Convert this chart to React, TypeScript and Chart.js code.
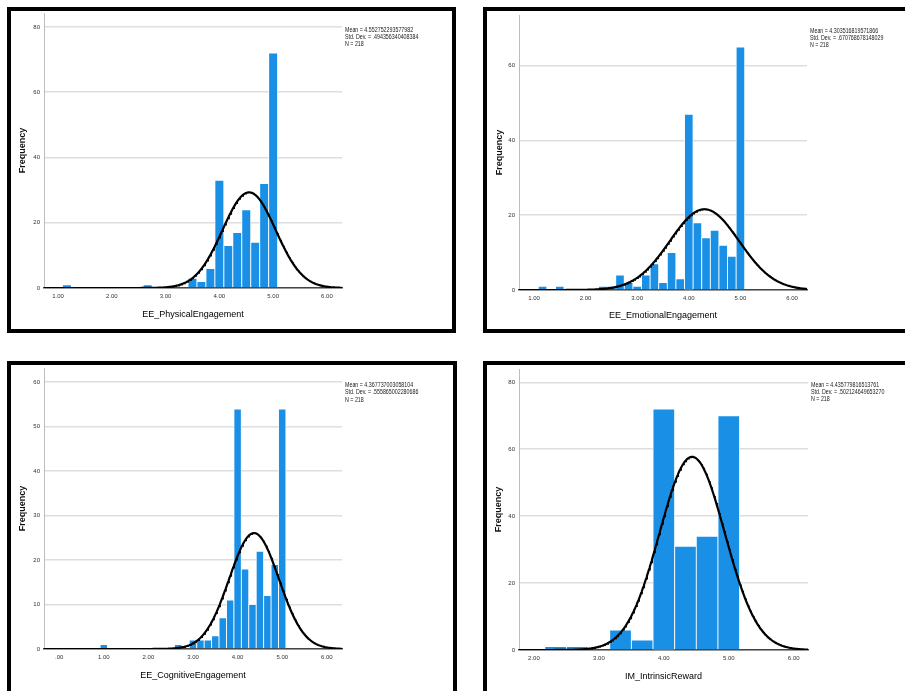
import React, { useEffect, useRef } from 'react';
import { Chart, registerables } from 'chart.js';

Chart.register(...registerables);

// ---------- Data ----------
// EE_PhysicalEngagement
const physicalBins = [1.1667, 2.6667, 3.5, 3.6667, 3.8333, 4.0, 4.1667, 4.3333, 4.5, 4.6667, 4.8333, 5.0];
const physicalCounts = [1, 1, 3, 2, 6, 33, 13, 17, 24, 14, 32, 72];
const physicalStats = [4.552752293577982, 0.494356340408384, 218];
const physicalStatLines = ['Mean = 4.552752293577982', 'Std. Dev. = .494356340408384', 'N = 218'];

// EE_EmotionalEngagement
const emotionalBins = [1.1667, 1.5, 2.3333, 2.5, 2.6667, 2.8333, 3.0, 3.1667, 3.3333, 3.5, 3.6667, 3.8333, 4.0, 4.1667, 4.3333, 4.5, 4.6667, 4.8333, 5.0];
const emotionalCounts = [1, 1, 1, 1, 4, 2, 1, 4, 7, 2, 10, 3, 47, 18, 14, 16, 12, 9, 65];
const emotionalStats = [4.303516819571866, 0.670768678148029, 218];
const emotionalStatLines = ['Mean = 4.303516819571866', 'Std. Dev. = .670768678148029', 'N = 218'];

// EE_CognitiveEngagement
const cognitiveBins = [1.0, 2.6667, 3.0, 3.1667, 3.3333, 3.5, 3.6667, 3.8333, 4.0, 4.1667, 4.3333, 4.5, 4.6667, 4.8333, 5.0];
const cognitiveCounts = [1, 1, 2, 2, 2, 3, 7, 11, 54, 18, 10, 22, 12, 19, 54];
const cognitiveStats = [4.367737003058104, 0.555865002280686, 218];
const cognitiveStatLines = ['Mean = 4.367737003058104', 'Std. Dev. = .555865002280686', 'N = 218'];

// IM_IntrinsicReward
const rewardBins = [2.3333, 2.6667, 3.3333, 3.6667, 4.0, 4.3333, 4.6667, 5.0];
const rewardCounts = [1, 1, 6, 3, 72, 31, 34, 70];
const rewardStats = [4.435779816513761, 0.50212464965327, 218];
const rewardStatLines = ['Mean = 4.435779816513761', 'Std. Dev. = .502124649653270', 'N = 218'];

// Tick values and labels
const xTicksA = [1, 2, 3, 4, 5, 6];
const xLabelsA = ['1.00', '2.00', '3.00', '4.00', '5.00', '6.00'];
const xTicksC = [0, 1, 2, 3, 4, 5, 6];
const xLabelsC = ['.00', '1.00', '2.00', '3.00', '4.00', '5.00', '6.00'];
const xTicksD = [2, 3, 4, 5, 6];
const xLabelsD = ['2.00', '3.00', '4.00', '5.00', '6.00'];
const yTicks80 = [0, 20, 40, 60, 80];
const yTicks60 = [0, 20, 40, 60];
const yTicks60by10 = [0, 10, 20, 30, 40, 50, 60];

const BAR = '#1990e6';
const FONT = "'Liberation Sans', Arial, sans-serif";

type PanelDef = {
  title: string;
  bins: number[];
  counts: number[];
  stats: number[];
  statLines: string[];
  binWidth: number;
  xTicks: number[];
  xLabels: string[];
  yTicks: number[];
  xMin: number;
  xMax: number;
  yMax: number;
  box: { x: number; y: number; w: number; h: number };
  canvas: { x: number; y: number; w: number; h: number };
  area: { L: number; T: number; R: number; B: number };
  yTitleX: number;
  xTitleY: number;
  statsPos: { x: number; y: number };
};

const panels: PanelDef[] = [
  {
    title: 'EE_PhysicalEngagement', bins: physicalBins, counts: physicalCounts, stats: physicalStats,
    statLines: physicalStatLines, binWidth: 1 / 6, xTicks: xTicksA, xLabels: xLabelsA, yTicks: yTicks80,
    xMin: 0.74, xMax: 6.28, yMax: 84.3,
    box: { x: 7, y: 7, w: 449, h: 326 }, canvas: { x: 11, y: 11, w: 441, h: 318 },
    area: { L: 44, T: 13, R: 342, B: 288 }, yTitleX: 23, xTitleY: 315, statsPos: { x: 345, y: 25.5 },
  },
  {
    title: 'EE_EmotionalEngagement', bins: emotionalBins, counts: emotionalCounts, stats: emotionalStats,
    statLines: emotionalStatLines, binWidth: 1 / 6, xTicks: xTicksA, xLabels: xLabelsA, yTicks: yTicks60,
    xMin: 0.71, xMax: 6.29, yMax: 73.6,
    box: { x: 483, y: 7, w: 440, h: 326 }, canvas: { x: 487, y: 11, w: 418, h: 318 },
    area: { L: 519, T: 15, R: 807, B: 290 }, yTitleX: 500, xTitleY: 316, statsPos: { x: 810, y: 26.5 },
  },
  {
    title: 'EE_CognitiveEngagement', bins: cognitiveBins, counts: cognitiveCounts, stats: cognitiveStats,
    statLines: cognitiveStatLines, binWidth: 1 / 6, xTicks: xTicksC, xLabels: xLabelsC, yTicks: yTicks60by10,
    xMin: -0.34, xMax: 6.34, yMax: 63.2,
    box: { x: 7, y: 361, w: 450, h: 340 }, canvas: { x: 11, y: 365, w: 442, h: 326 },
    area: { L: 44, T: 368, R: 342, B: 649 }, yTitleX: 23, xTitleY: 676, statsPos: { x: 345, y: 381 },
  },
  {
    title: 'IM_IntrinsicReward', bins: rewardBins, counts: rewardCounts, stats: rewardStats,
    statLines: rewardStatLines, binWidth: 1 / 3, xTicks: xTicksD, xLabels: xLabelsD, yTicks: yTicks80,
    xMin: 1.77, xMax: 6.22, yMax: 84,
    box: { x: 483, y: 361, w: 440, h: 340 }, canvas: { x: 487, y: 365, w: 418, h: 326 },
    area: { L: 519, T: 369, R: 808, B: 650 }, yTitleX: 499, xTitleY: 677, statsPos: { x: 811, y: 380.5 },
  },
];

function Panel({ p }: { p: PanelDef }) {
  const ref = useRef<HTMLCanvasElement>(null);

  useEffect(() => {
    const canvas = ref.current!;
    const [mean, sd, n] = p.stats;
    const curve: { x: number; y: number }[] = [];
    const steps = 400;
    for (let i = 0; i <= steps; i++) {
      const x = p.xMin + ((p.xMax - p.xMin) * i) / steps;
      const z = (x - mean) / sd;
      curve.push({ x, y: (n * p.binWidth * Math.exp(-0.5 * z * z)) / (sd * Math.sqrt(2 * Math.PI)) });
    }

    const titleSize = 9;
    const lh = titleSize * 1.2;
    const c = p.canvas;
    const a = p.area;
    const wy = a.L - c.x;
    const hx = p.xTitleY + lh / 2 - a.B;
    const padTop = a.T - c.y;
    const padRight = c.x + c.w - a.R;
    const padBottom = c.y + c.h - (a.B + hx);
    const yTitlePad = p.yTitleX - c.x - lh / 2;

    const chart = new Chart(canvas, {
      type: 'bar',
      data: {
        datasets: [
          {
            type: 'line',
            data: curve,
            borderColor: '#000000',
            borderWidth: 2.2,
            pointRadius: 0,
            tension: 0,
            order: 0,
          } as any,
          {
            type: 'bar',
            data: p.bins.map((b, i) => ({ x: b, y: p.counts[i] })),
            backgroundColor: BAR,
            borderColor: 'rgba(255,255,255,0.9)',
            borderWidth: 0.8,
            barPercentage: 1,
            categoryPercentage: 1,
            order: 1,
          } as any,
        ],
      },
      options: {
        animation: false,
        responsive: false,
        devicePixelRatio: 1,
        layout: { padding: { left: 0, top: padTop, right: padRight, bottom: padBottom } },
        plugins: { legend: { display: false }, tooltip: { enabled: false } },
        scales: {
          x: {
            type: 'linear',
            min: p.xMin,
            max: p.xMax,
            offset: false,
            afterBuildTicks: (s: any) => {
              s.ticks = p.xTicks.map((v) => ({ value: v }));
            },
            afterFit: (s: any) => {
              s.height = hx;
              s.paddingLeft = 0;
              s.paddingRight = 0;
              s.paddingTop = 0;
              s.paddingBottom = 0;
            },
            grid: { display: false, drawTicks: false, offset: false },
            border: { display: true, color: '#444444', width: 1.5 },
            ticks: {
              autoSkip: false,
              maxRotation: 0,
              padding: 5,
              color: '#333333',
              font: { family: FONT, size: 6 },
              callback: (v: any) => {
                const i = p.xTicks.indexOf(Number(v));
                return i >= 0 ? p.xLabels[i] : '';
              },
            },
            title: {
              display: true,
              text: p.title,
              color: '#000000',
              padding: 0,
              font: { family: FONT, size: titleSize, lineHeight: 1.2 },
            },
          },
          y: {
            type: 'linear',
            min: 0,
            max: p.yMax,
            afterBuildTicks: (s: any) => {
              s.ticks = p.yTicks.map((v) => ({ value: v }));
            },
            afterFit: (s: any) => {
              s.width = wy;
              s.paddingLeft = 0;
              s.paddingRight = 0;
              s.paddingTop = 0;
              s.paddingBottom = 0;
            },
            grid: { color: '#dedede', lineWidth: 1.6, drawTicks: false },
            border: { display: true, color: '#bdbdbd', width: 1 },
            ticks: {
              padding: 4,
              color: '#333333',
              font: { family: FONT, size: 6 },
              callback: (v: any) => String(v),
            },
            title: {
              display: true,
              text: 'Frequency',
              color: '#111111',
              padding: { top: yTitlePad, bottom: 0 },
              font: { family: FONT, size: titleSize, weight: 'bold', lineHeight: 1.2 },
            },
          },
        },
      },
    });
    return () => chart.destroy();
  }, [p]);

  return (
    <>
      <div
        style={{
          position: 'absolute',
          left: p.box.x,
          top: p.box.y,
          width: p.box.w,
          height: p.box.h,
          border: '4px solid #000',
          boxSizing: 'border-box',
          background: '#fff',
        }}
      />
      <canvas
        ref={ref}
        width={p.canvas.w}
        height={p.canvas.h}
        style={{ position: 'absolute', left: p.canvas.x, top: p.canvas.y, width: p.canvas.w, height: p.canvas.h }}
      />
      <div
        style={{
          position: 'absolute',
          left: p.statsPos.x,
          top: p.statsPos.y,
          fontFamily: FONT,
          fontSize: 7,
          lineHeight: '7.4px',
          color: '#222',
          whiteSpace: 'nowrap',
          transform: 'scaleX(0.76)',
          transformOrigin: 'left top',
        }}
      >
        {p.statLines.map((s, i) => (
          <div key={i}>{s}</div>
        ))}
      </div>
    </>
  );
}

export default function App() {
  return (
    <div
      style={{
        position: 'absolute',
        left: 0,
        top: 0,
        width: 905,
        height: 691,
        overflow: 'hidden',
        background: '#fff',
      }}
    >
      {panels.map((p, i) => (
        <Panel key={i} p={p} />
      ))}
    </div>
  );
}
